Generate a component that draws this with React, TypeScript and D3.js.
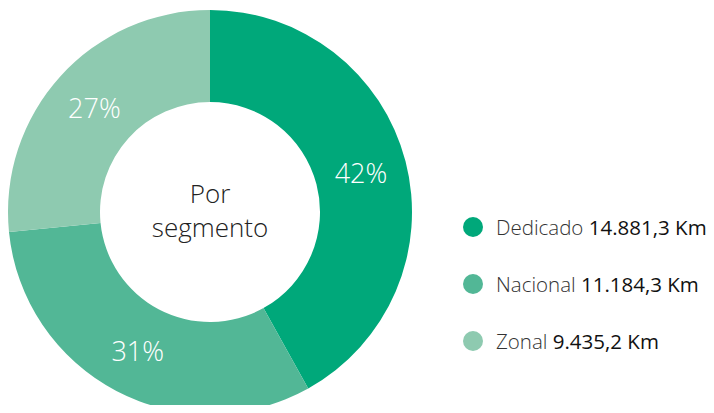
import React from "react";
import * as d3 from "d3";

const categories = ["Dedicado", "Nacional", "Zonal"];
const values = [14881.3, 11184.3, 9435.2];
const valueLabels = ["14.881,3 Km", "11.184,3 Km", "9.435,2 Km"];
const colors = ["#00a87a", "#52b796", "#8ecab0"];
const centerLines = ["Por", "segmento"];

const W = 714;
const H = 413;
const FONT = "'Open Sans', 'Noto Sans', sans-serif";

// largest-remainder percentages (sum to 100)
function percents(vals: number[]): number[] {
  const total = d3.sum(vals);
  const raw = vals.map((v) => (v / total) * 100);
  const fl = raw.map(Math.floor);
  let rest = 100 - d3.sum(fl);
  const order = raw
    .map((r, i) => ({ i, rem: r - Math.floor(r) }))
    .sort((a, b) => b.rem - a.rem);
  for (const o of order) {
    if (rest <= 0) break;
    fl[o.i] += 1;
    rest -= 1;
  }
  return fl;
}

export default function App() {
  const cx = 210;
  const cy = 212;
  const outerR = 202;
  const innerR = 110;
  const pct = percents(values);
  const data = categories.map((c, i) => ({ c, v: values[i], i }));
  const pie = d3.pie<any>().value((d) => d.v).sort(null);
  const arcs = pie(data);
  const arc = d3.arc<any>().innerRadius(innerR).outerRadius(outerR);
  const labelArc = d3.arc<any>().innerRadius(innerR + 46).outerRadius(innerR + 46);
  const legendY = d3.scalePoint<string>().domain(categories).range([227, 341]);

  return (
    <div style={{ margin: -8, width: W, height: H, overflow: "hidden" }}>
      <svg width={W} height={H} style={{ display: "block" }}>
        <g transform={`translate(${cx},${cy})`}>
          {arcs.map((a, i) => (
            <path key={i} d={arc(a) as string} fill={colors[i]} />
          ))}
          {arcs.map((a, i) => {
            const [x, y] = labelArc.centroid(a);
            return (
              <text
                key={"l" + i}
                x={x}
                y={y}
                textAnchor="middle"
                dominantBaseline="central"
                fill="#fff"
                fontFamily={FONT}
                fontWeight={300}
                fontSize={27}
              >
                {pct[i]}%
              </text>
            );
          })}
          <text
            textAnchor="middle"
            fill="#222"
            fontFamily={FONT}
            fontWeight={300}
            fontSize={26}
          >
            <tspan x={0} y={-9}>{centerLines[0]}</tspan>
            <tspan x={0} y={25}>{centerLines[1]}</tspan>
          </text>
        </g>
        {categories.map((c, i) => (
          <g key={"lg" + i} transform={`translate(473,${legendY(c)})`}>
            <circle r={10} fill={colors[i]} />
            <text
              x={23}
              y={0}
              dominantBaseline="central"
              fontFamily={FONT}
              fontSize={20.5}
            >
              <tspan fill="#333" fontWeight={300}>{c}</tspan>
              <tspan fill="#111" fontWeight={400}> {valueLabels[i]}</tspan>
            </text>
          </g>
        ))}
      </svg>
    </div>
  );
}
